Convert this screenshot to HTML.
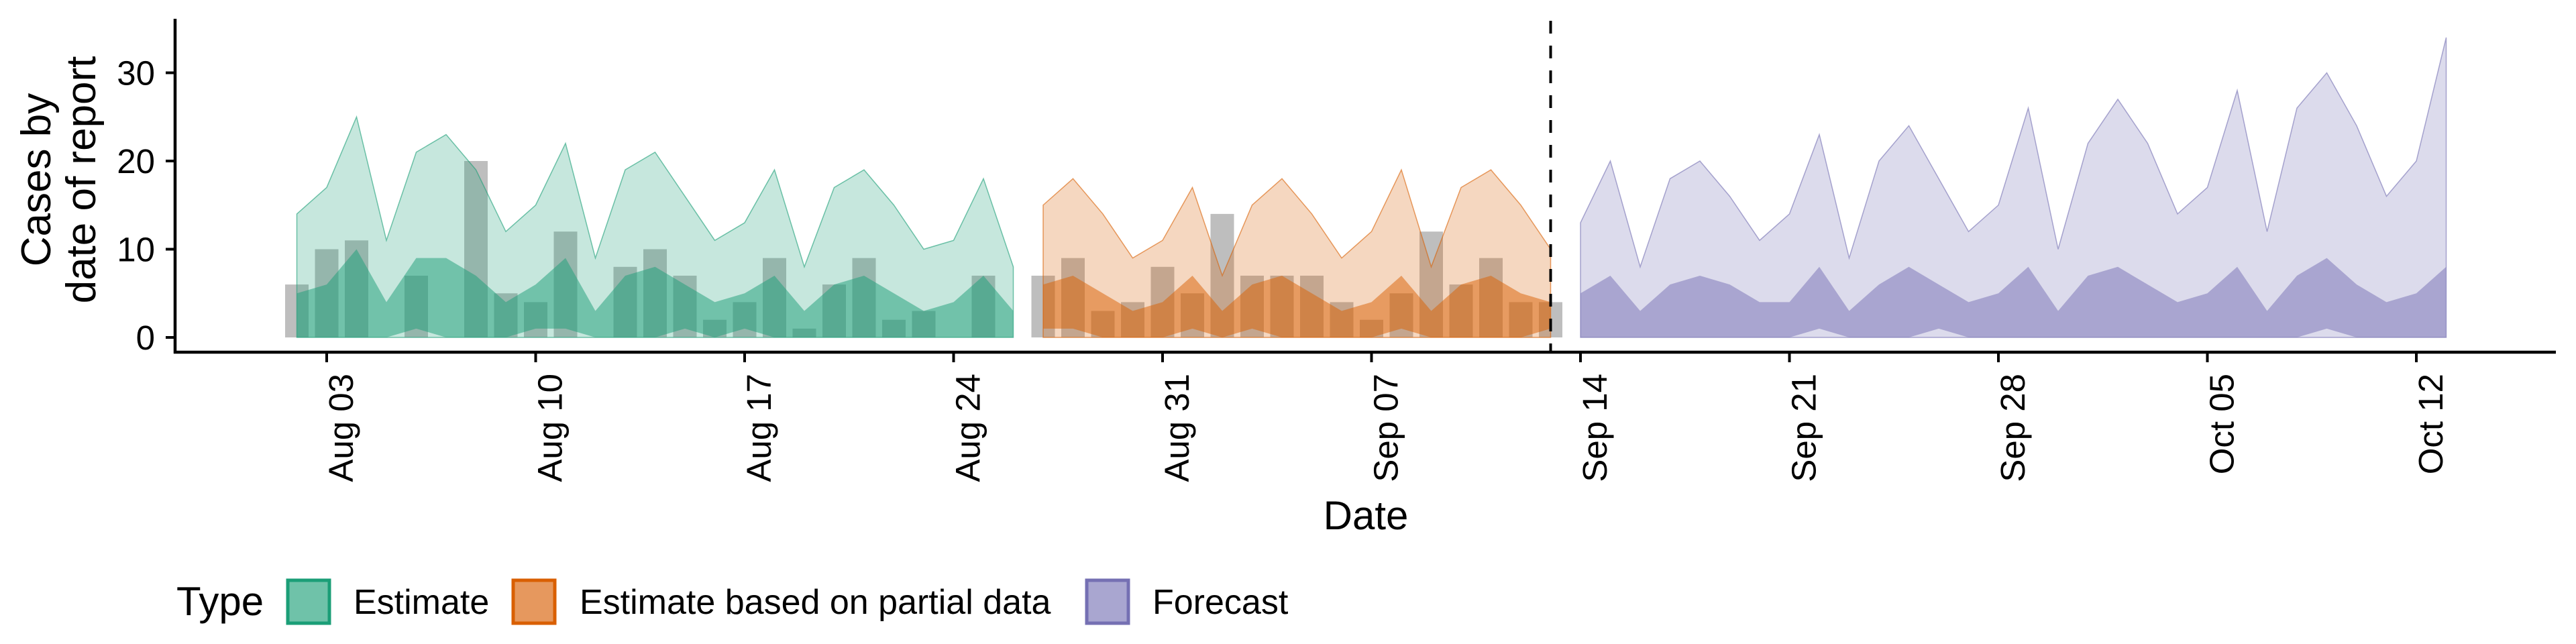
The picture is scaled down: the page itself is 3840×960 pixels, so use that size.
<!DOCTYPE html>
<html><head><meta charset="utf-8"><style>
html,body{margin:0;padding:0;background:#fff;}
svg{display:block;font-family:"Liberation Sans",sans-serif;}
</style></head><body>
<svg id="chart" width="3840" height="960" viewBox="0 0 3840 960" xmlns="http://www.w3.org/2000/svg">
<g id="bars"></g>
<g id="ribbons"></g>
<g id="axes"></g>
<text transform="translate(75,268) rotate(-90)" text-anchor="middle" font-size="62">Cases by</text>
<text transform="translate(142,268) rotate(-90)" text-anchor="middle" font-size="62">date of report</text>
<text x="2036" y="789" text-anchor="middle" font-size="60">Date</text>
<g>
<text x="263" y="917" font-size="60">Type</text>
<rect x="429" y="865" width="62" height="64" fill="#6fc2a9" stroke="#1b9e77" stroke-width="5"/>
<text x="527" y="915" font-size="52">Estimate</text>
<rect x="765" y="865" width="62" height="64" fill="#e6985e" stroke="#d95f02" stroke-width="5"/>
<text x="864" y="915" font-size="52">Estimate based on partial data</text>
<rect x="1620" y="865" width="62" height="64" fill="#a9a6d0" stroke="#7570b3" stroke-width="5"/>
<text x="1718" y="915" font-size="52">Forecast</text>
</g>
</svg>
<script>
// day index 0 = Aug 03
const barDays = [-1,0,1,3,5,6,7,8,10,11,12,13,14,15,16,17,18,19,20,22,24,25,26,27,28,29,30,31,32,33,34,35,36,37,38,39,40,41];
const barValues = [6,10,11,7,20,5,4,12,8,10,7,2,4,9,1,6,9,2,3,7,7,9,3,4,8,5,14,7,7,7,4,2,5,12,6,9,4,4];

const estStart = -1;
const estUpper90 = [14,17,25,11,21,23,19,12,15,22,9,19,21,16,11,13,19,8,17,19,15,10,11,18,8];
const estUpper50 = [5,6,10,4,9,9,7,4,6,9,3,7,8,6,4,5,7,3,6,7,5,3,4,7,3];
const estLower50 = [0,0,0,0,1,0,0,0,1,1,0,0,0,1,0,1,0,0,0,0,0,0,0,0,0];

const partStart = 24;
const partUpper90 = [15,18,14,9,11,17,7,15,18,14,9,12,19,8,17,19,15,10];
const partUpper50 = [6,7,5,3,4,7,3,6,7,5,3,4,7,3,6,7,5,4];
const partLower50 = [1,1,0,0,0,1,0,1,0,0,0,0,1,0,0,0,0,1];

const fcStart = 42;
const fcUpper90 = [13,20,8,18,20,16,11,14,23,9,20,24,18,12,15,26,10,22,27,22,14,17,28,12,26,30,24,16,20,34];
const fcUpper50 = [5,7,3,6,7,6,4,4,8,3,6,8,6,4,5,8,3,7,8,6,4,5,8,3,7,9,6,4,5,8];
const fcLower50 = [0,0,0,0,0,0,0,0,1,0,0,0,1,0,0,0,0,0,0,0,0,0,0,0,0,1,0,0,0,0];

const yTicks = [0,10,20,30];
const xTickDays = [0,7,14,21,28,35,42,49,56,63,70];
const xTickLabels = ["Aug 03","Aug 10","Aug 17","Aug 24","Aug 31","Sep 07","Sep 14","Sep 21","Sep 28","Oct 05","Oct 12"];
const forecastDay = 41;

const NS = "http://www.w3.org/2000/svg";
function xs(d){ return 487 + d*44.5; }
function ys(v){ return 503 - v*13.15; }
function mk(tag, attrs, parent){
  const e = document.createElementNS(NS, tag);
  for (const k in attrs) e.setAttribute(k, attrs[k]);
  parent.appendChild(e);
  return e;
}
const gb = document.getElementById('bars');
barDays.forEach((d,i)=>{
  const r = mk('rect',{x:xs(d)-17.5,y:ys(barValues[i]),width:35,height:ys(0)-ys(barValues[i]),fill:'#bebebe'},gb);
  
  
});
const gr = document.getElementById('ribbons');
function ribbon(start, up, lo, color, op, name, stroke){
  let pts = [];
  up.forEach((v,i)=>pts.push(xs(start+i)+','+ys(v)));
  for (let i=lo.length-1;i>=0;i--) pts.push(xs(start+i)+','+ys(lo[i]));
  const p = mk('polygon',{points:pts.join(' '),fill:color,'fill-opacity':op},gr);
  if (stroke){ p.setAttribute('stroke',color); p.setAttribute('stroke-width','1.5'); p.setAttribute('stroke-opacity','0.6'); }
  
  
}
function zeros(n){ return new Array(n).fill(0); }
ribbon(estStart, estUpper90, zeros(estUpper90.length), '#1b9e77', 0.25, 'estimate-90-ribbon', true);
ribbon(estStart, estUpper50, estLower50, '#1b9e77', 0.5, 'estimate-50-ribbon', false);
ribbon(partStart, partUpper90, zeros(partUpper90.length), '#d95f02', 0.25, 'partial-90-ribbon', true);
ribbon(partStart, partUpper50, partLower50, '#d95f02', 0.5, 'partial-50-ribbon', false);
ribbon(fcStart, fcUpper90, zeros(fcUpper90.length), '#7570b3', 0.25, 'forecast-90-ribbon', true);
ribbon(fcStart, fcUpper50, fcLower50, '#7570b3', 0.5, 'forecast-50-ribbon', false);

const ga = document.getElementById('axes');
const dl = mk('line',{x1:xs(forecastDay),x2:xs(forecastDay),y1:31,y2:525,stroke:'#000','stroke-width':4,'stroke-dasharray':'19 18'},ga);


const ya = mk('line',{x1:261,x2:261,y1:28,y2:527,stroke:'#000','stroke-width':4.5},ga);


const xa = mk('line',{x1:259,x2:3810,y1:525,y2:525,stroke:'#000','stroke-width':4.5},ga);


yTicks.forEach(v=>{
  const t = mk('line',{x1:247,x2:261,y1:ys(v),y2:ys(v),stroke:'#000','stroke-width':4},ga);
  
  
  const l = mk('text',{x:231,y:ys(v)+18,'text-anchor':'end','font-size':51},ga);
  l.textContent = v;
  
  
});
xTickDays.forEach((d,i)=>{
  const t = mk('line',{x1:xs(d),x2:xs(d),y1:525,y2:540,stroke:'#000','stroke-width':4},ga);
  
  
  const l = mk('text',{transform:'translate('+(xs(d)+39)+',557) rotate(-90)','text-anchor':'end','font-size':51},ga);
  l.textContent = xTickLabels[i];
  
  
});
</script>
</body></html>
